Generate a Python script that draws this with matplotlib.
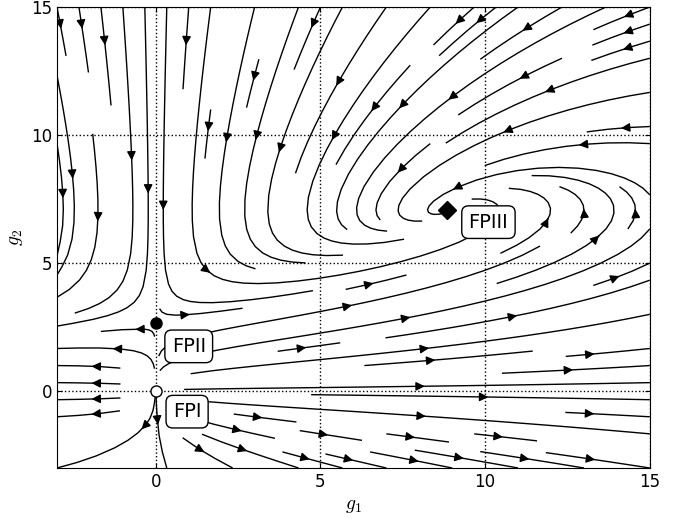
import numpy as np
import matplotlib.pyplot as plt

plt.rcParams["mathtext.fontset"] = "cm"

# fixed points of the flow
fp_names = ["FPI", "FPII", "FPIII"]
fp_g1 = [0.0, 0.0, 8.85]
fp_g2 = [0.0, 2.67, 7.07]
fp_markers = ["o", "o", "D"]
fp_faces = ["white", "black", "black"]

# where the labels sit
label_g1 = [0.95, 1.0, 10.1]
label_g2 = [-0.8, 1.75, 6.6]

ticks = [0, 5, 10, 15]
a_coef = 1.3   # strength of the g1 part of the flow
k_coef = 1.0   # strength of the g2 part


def beta(g1, g2):
    """flow vector (dg1, dg2) with the three fixed points above"""
    slope = (fp_g2[2] - fp_g2[1]) / fp_g1[2]
    dg1 = a_coef * g1 * (fp_g2[2] - g2)
    dg2 = k_coef * g2 * (fp_g2[1] + slope * g1 - g2)
    return dg1, dg2


g1 = np.linspace(-3, 15, 200)
g2 = np.linspace(-3, 15, 200)
G1, G2 = np.meshgrid(g1, g2)
U, V = beta(G1, G2)

fig = plt.figure(figsize=(6.95, 5.2), dpi=100)
ax = fig.add_axes([0.082, 0.1, 0.853, 0.8865])
ax.streamplot(G1, G2, U, V, color="k", linewidth=1, density=0.95, arrowsize=1.3)

for x, y, m, fc in zip(fp_g1, fp_g2, fp_markers, fp_faces):
    ax.plot(x, y, marker=m, ms=9 if m == "D" else 8, mfc=fc, mec="k", mew=1, zorder=4)

for name, x, y in zip(fp_names, label_g1, label_g2):
    ax.text(x, y, name, fontsize=14, ha="center", va="center", zorder=5,
            bbox=dict(boxstyle="round,pad=0.35", fc="white", ec="k"))

ax.set_xlim(-3, 15)
ax.set_ylim(-3, 15)
ax.set_xticks(ticks)
ax.set_yticks(ticks)
ax.tick_params(direction="in", top=True, right=True, labelsize=12)
ax.grid(True, color="k", linestyle=":", linewidth=1)
ax.set_axisbelow(False)
ax.set_xlabel(r"$g_1$", fontsize=14)
ax.set_ylabel(r"$g_2$", fontsize=14)

fig.savefig("out.png", dpi=100)
